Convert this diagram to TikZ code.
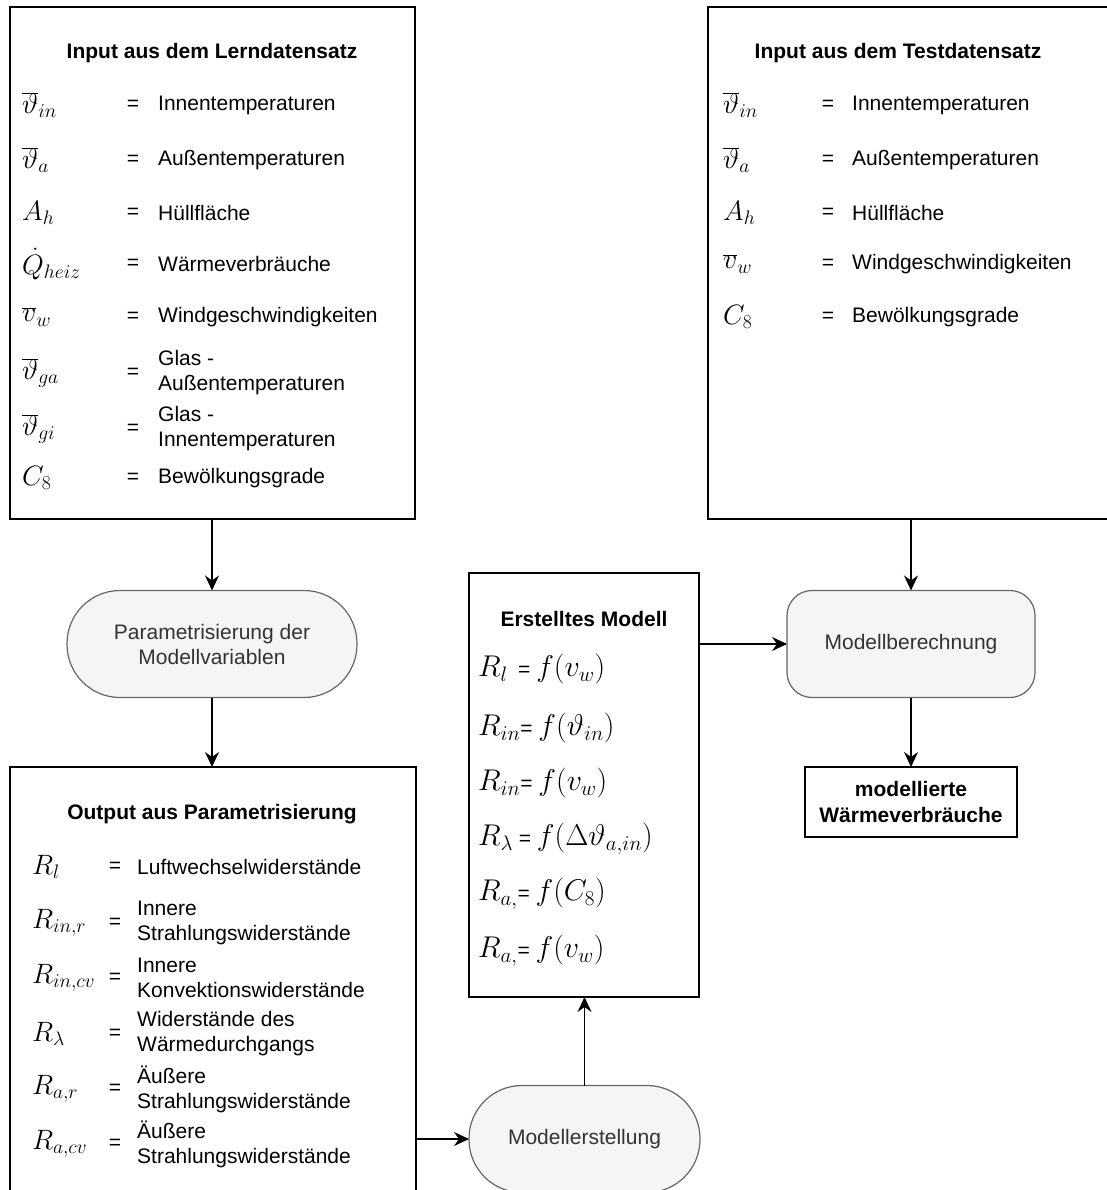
\RequirePackage{fix-cm}
\documentclass[tikz,border=0pt]{standalone}
\usepackage{fontspec}
\setmainfont{Liberation Sans}
\usetikzlibrary{arrows.meta}
\definecolor{sfill}{HTML}{F5F5F5}
\definecolor{sdraw}{HTML}{666666}
\definecolor{stext}{HTML}{333333}
\newcommand\mmath[1]{{\fontsize{30}{32}\selectfont$#1$}}
\newcommand\vrow[7]{%
  \node[symb] (#1s) at (#2,#5) {$#6$};
  \node[eqs] (#1e) at (#3,#5) {=};
  \node[dsc] (#1d) at (#4,#5) {#7};}
\tikzset{
  box/.style={draw=black, line width=1.5pt, inner sep=0pt, outer sep=0pt},
  term/.style={draw=sdraw, fill=sfill, line width=1.2pt, text=stext, align=center,
    inner sep=0pt, outer sep=0pt, rounded corners=53pt, font=\fontsize{21}{25}\selectfont},
  proc/.style={term, rounded corners=25pt},
  arr/.style={line width=1.5pt, -{Stealth[length=15pt,width=14pt,inset=5pt]}},
  ttl/.style={font=\fontsize{21}{25}\selectfont\bfseries, inner sep=0pt},
  symb/.style={font=\fontsize{28}{30}\selectfont, anchor=west, inner sep=0pt},
  eqs/.style={font=\fontsize{21}{25}\selectfont, inner sep=0pt},
  dsc/.style={font=\fontsize{21}{25}\selectfont, anchor=west, align=left, inner sep=0pt},
  mline/.style={font=\fontsize{21}{25}\selectfont, anchor=west, inner sep=0pt},
}
\begin{document}
\begin{tikzpicture}[x=1pt,y=-1pt]
\useasboundingbox[fill=white] (0,0) rectangle (1106,1190);
% boxes
\node[box, minimum width=405pt, minimum height=512pt] (b1) at (212.5,263) {};
\node[box, minimum width=407pt, minimum height=512pt] (b2) at (911.5,263) {};
\node[box, minimum width=406pt, minimum height=448pt] (ob) at (213,991) {};
\node[box, minimum width=230pt, minimum height=424pt] (mo) at (584,785) {};
\node[term, minimum width=290pt, minimum height=107pt] (pa) at (212,644) {Parametrisierung der\\Modellvariablen};
\node[proc, minimum width=248pt, minimum height=107pt] (mb) at (911,644) {Modellberechnung};
\node[box, minimum width=212pt, minimum height=70pt, align=center, font=\fontsize{21}{26}\selectfont\bfseries] (mw) at (911,802) {modellierte\\Wärmeverbräuche};
\node[term, minimum width=231pt, minimum height=107pt] (ms) at (584.5,1139) {Modellerstellung};
% titles
\node[ttl] (t1) at (212,53) {Input aus dem Lerndatensatz};
\node[ttl] (t2) at (898,53) {Input aus dem Testdatensatz};
\node[ttl] (t3) at (212,814) {Output aus Parametrisierung};
\node[ttl] (t4) at (584,619) {Erstelltes Modell};
% box 1 rows
\vrow{a1}{22}{133}{158}{105}{\overline{\vartheta}_{in}}{Innentemperaturen}
\vrow{a2}{22}{133}{158}{160}{\overline{\vartheta}_{a}}{Außentemperaturen}
\vrow{a3}{22}{133}{158}{213}{A_h}{Hüllfläche}
\vrow{a4}{22}{133}{158}{264}{\dot{Q}_{heiz}}{Wärmeverbräuche}
\vrow{a5}{22}{133}{158}{317}{\overline{v}_w}{Windgeschwindigkeiten}
\vrow{a6}{22}{133}{158}{373}{\overline{\vartheta}_{ga}}{Glas -\\Außentemperaturen}
\vrow{a7}{22}{133}{158}{429}{\overline{\vartheta}_{gi}}{Glas -\\Innentemperaturen}
\vrow{a8}{22}{133}{158}{478}{C_8}{Bewölkungsgrade}
% box 2 rows
\vrow{b1r}{723}{828}{852}{105}{\overline{\vartheta}_{in}}{Innentemperaturen}
\vrow{b2r}{723}{828}{852}{160}{\overline{\vartheta}_{a}}{Außentemperaturen}
\vrow{b3r}{723}{828}{852}{213}{A_h}{Hüllfläche}
\vrow{b4r}{723}{828}{852}{264}{\overline{v}_w}{Windgeschwindigkeiten}
\vrow{b5r}{723}{828}{852}{317}{C_8}{Bewölkungsgrade}
% output rows
\vrow{c1}{32}{115}{137}{867}{R_l}{Luftwechselwiderstände}
\vrow{c2}{32}{115}{137}{923}{R_{in,r}}{Innere\\Strahlungswiderstände}
\vrow{c3}{32}{115}{137}{978}{R_{in,cv}}{Innere\\Konvektionswiderstände}
\vrow{c4}{32}{115}{137}{1034}{R_\lambda}{Widerstände des\\Wärmedurchgangs}
\vrow{c5}{32}{115}{137}{1089}{R_{a,r}}{Äußere\\Strahlungswiderstände}
\vrow{c6}{32}{115}{137}{1144}{R_{a,cv}}{Äußere\\Strahlungswiderstände}
% model lines
\node[mline] (m1) at (478,669) {\mmath{R_l}\enspace= \mmath{f(v_w)}};
\node[mline] (m2) at (478,728) {\mmath{R_{in}}= \mmath{f(\vartheta_{in})}};
\node[mline] (m3) at (478,783) {\mmath{R_{in}}= \mmath{f(v_w)}};
\node[mline] (m4) at (478,839) {\mmath{R_\lambda} = \mmath{f(\Delta\vartheta_{a,in})}};
\node[mline] (m5) at (478,894) {\mmath{R_{a,}}= \mmath{f(C_8)}};
\node[mline] (m6) at (478,951) {\mmath{R_{a,}}= \mmath{f(v_w)}};
% connectors
\draw[arr] (b1.south -| pa.north) -- (pa.north);
\draw[arr] (pa.south) -- (pa.south |- ob.north);
\draw[arr] (ob.east |- ms.west) -- (ms.west);
\draw[arr] (ms.north) -- (ms.north |- mo.south);
\draw[arr] (mo.east |- mb.west) -- (mb.west);
\draw[arr] (b2.south -| mb.north) -- (mb.north);
\draw[arr] (mb.south) -- (mw.north);
\end{tikzpicture}
\end{document}
